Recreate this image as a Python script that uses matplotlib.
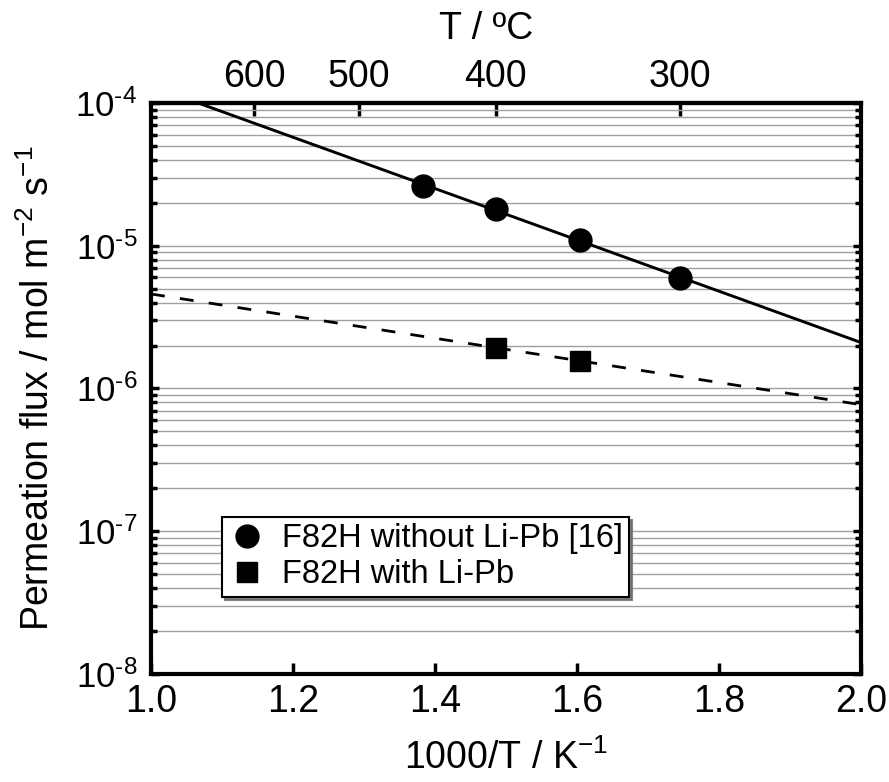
import numpy as np
import matplotlib
matplotlib.use("Agg")
import matplotlib.pyplot as plt
from matplotlib.ticker import LogLocator, NullFormatter, FixedLocator

plt.rcParams['font.family'] = ['Liberation Sans', 'DejaVu Sans']
plt.rcParams['mathtext.fontset'] = 'custom'
plt.rcParams['mathtext.rm'] = 'Liberation Sans'
plt.rcParams['mathtext.it'] = 'Liberation Sans:italic'

# data: temperatures in degC, fluxes in mol m-2 s-1
temp_without = [450, 400, 350, 300]
flux_without = [2.62e-5, 1.82e-5, 1.10e-5, 5.91e-6]
temp_with = [400, 350]
flux_with = [1.93e-6, 1.56e-6]
top_ticks = [600, 500, 400, 300]
y_exps = [-8, -7, -6, -5, -4]

x_without = 1000 / (np.array(temp_without) + 273.15)
x_with = 1000 / (np.array(temp_with) + 273.15)

fig = plt.figure(figsize=(8.89, 7.82), dpi=100)
ax = fig.add_axes([0.1699, 0.1381, 0.7986, 0.7302])

# Arrhenius fits
xx = np.linspace(1.0, 2.0, 200)
p1 = np.polyfit(x_without, np.log10(flux_without), 1)
p2 = np.polyfit(x_with, np.log10(flux_with), 1)
ax.plot(xx, 10 ** np.polyval(p1, xx), color='black', lw=2.1, zorder=3)
ax.plot(xx, 10 ** np.polyval(p2, xx), color='black', lw=2.0, dashes=(5, 5.5), zorder=3)

ax.plot(x_without, flux_without, 'o', color='black', ms=16.5, zorder=4,
        label='F82H without Li-Pb [16]')
ax.plot(x_with, flux_with, 's', color='black', ms=14.5, zorder=4,
        label='F82H with Li-Pb')

ax.set_yscale('log')
ax.set_xlim(1.0, 2.0)
ax.set_ylim(1e-8, 1e-4)
ax.set_xticks([1.0, 1.2, 1.4, 1.6, 1.8, 2.0])
ax.set_xticklabels(['1.0', '1.2', '1.4', '1.6', '1.8', '2.0'])
ax.yaxis.set_major_locator(FixedLocator([10.0 ** e for e in y_exps]))
ax.set_yticklabels(['10$^{\u2010%d}$' % -e for e in y_exps])
ax.yaxis.set_minor_locator(LogLocator(base=10, subs=np.arange(2, 10), numticks=20))
ax.yaxis.set_minor_formatter(NullFormatter())

ax.grid(True, which='both', axis='y', color='#a0a0a0', lw=1.0, zorder=0)
ax.set_axisbelow(True)

for s in ax.spines.values():
    s.set_linewidth(3)
ax.tick_params(axis='x', which='major', direction='in', length=8, width=2.5,
               labelsize=27, pad=7, top=False)
ax.tick_params(axis='y', which='major', direction='in', length=6, width=2.5,
               labelsize=25, right=True, pad=10)
ax.tick_params(axis='y', which='minor', direction='in', length=4, width=2.5, right=True)

ax.set_xlabel('1000/T / K$^{\u22121}$', fontsize=27, labelpad=14)
ax.set_ylabel('Permeation flux / mol m$^{\u22122}$ s$^{\u22121}$', fontsize=27, labelpad=13)

# top axis in degC
top = ax.secondary_xaxis('top', functions=(lambda x: 1000 / np.asarray(x, float) - 273.15,
                                           lambda t: 1000 / (np.asarray(t, float) + 273.15)))
top.set_xticks(top_ticks)
top.set_xticklabels([str(t) for t in top_ticks])
top.tick_params(direction='in', length=9, width=2.5, labelsize=27, pad=6)
top.spines['top'].set_linewidth(3)
fig.text(0.547, 0.963, 'T / ºC', fontsize=27, ha='center', va='center')

leg = ax.legend(loc='lower left', bbox_to_anchor=(0.10, 0.135), fontsize=23.5,
                frameon=True, fancybox=False, shadow={'color': '0.4', 'alpha': 0.8},
                edgecolor='black', framealpha=1, handlelength=1.13, handletextpad=0.5,
                borderpad=0.2, labelspacing=0.15, borderaxespad=0)
leg.get_frame().set_linewidth(1.5)

fig.savefig('out.png', dpi=100)
